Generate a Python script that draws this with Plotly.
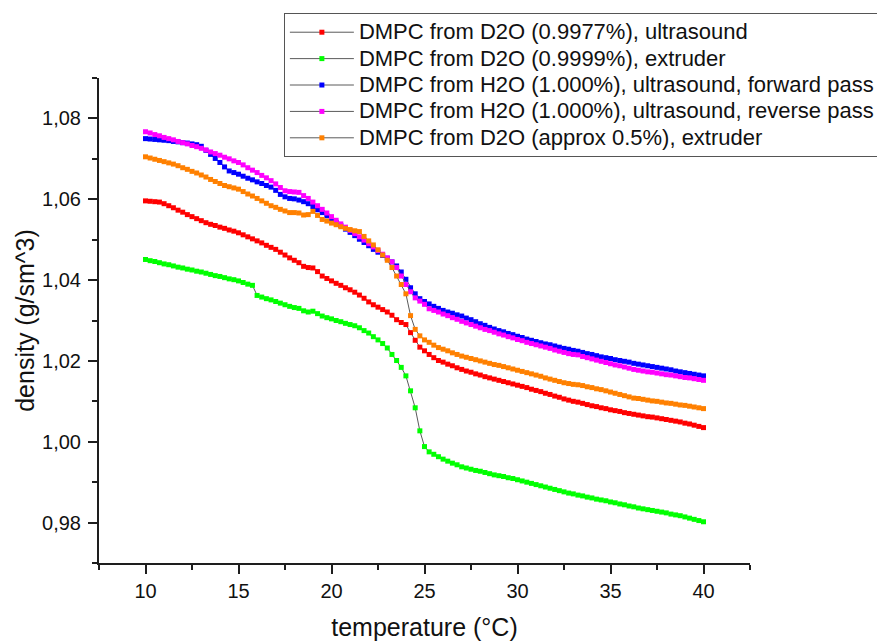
import plotly.graph_objects as go

# temperature grid (°C) shared by all series
temperature = [
    10.0, 10.25, 10.5, 10.75, 11.0, 11.25, 11.5, 11.75,
    12.0, 12.25, 12.5, 12.75, 13.0, 13.25, 13.5, 13.75,
    14.0, 14.25, 14.5, 14.75, 15.0, 15.25, 15.5, 15.75,
    16.0, 16.25, 16.5, 16.75, 17.0, 17.25, 17.5, 17.75,
    18.0, 18.25, 18.5, 18.75, 19.0, 19.25, 19.5, 19.75,
    20.0, 20.25, 20.5, 20.75, 21.0, 21.25, 21.5, 21.75,
    22.0, 22.25, 22.5, 22.75, 23.0, 23.25, 23.5, 23.75,
    24.0, 24.25, 24.5, 24.75, 25.0, 25.25, 25.5, 25.75,
    26.0, 26.25, 26.5, 26.75, 27.0, 27.25, 27.5, 27.75,
    28.0, 28.25, 28.5, 28.75, 29.0, 29.25, 29.5, 29.75,
    30.0, 30.25, 30.5, 30.75, 31.0, 31.25, 31.5, 31.75,
    32.0, 32.25, 32.5, 32.75, 33.0, 33.25, 33.5, 33.75,
    34.0, 34.25, 34.5, 34.75, 35.0, 35.25, 35.5, 35.75,
    36.0, 36.25, 36.5, 36.75, 37.0, 37.25, 37.5, 37.75,
    38.0, 38.25, 38.5, 38.75, 39.0, 39.25, 39.5, 39.75,
    40.0,
]

d2o_ultrasound = [
    1.0596, 1.0595, 1.0594, 1.0593, 1.0589, 1.0584, 1.0579, 1.0573,
    1.0568, 1.0562, 1.0557, 1.0552, 1.0547, 1.0542, 1.0538, 1.0535,
    1.0531, 1.0528, 1.0524, 1.0521, 1.0517, 1.0512, 1.0507, 1.0502,
    1.0497, 1.0492, 1.0486, 1.0481, 1.0476, 1.0469, 1.0462, 1.0455,
    1.0449, 1.0443, 1.0434, 1.0431, 1.0430, 1.0421, 1.0410, 1.0404,
    1.0398, 1.0392, 1.0387, 1.0381, 1.0376, 1.0370, 1.0363, 1.0355,
    1.0346, 1.0339, 1.0333, 1.0327, 1.0321, 1.0313, 1.0302, 1.0295,
    1.0290, 1.0270, 1.0251, 1.0234, 1.0225, 1.0216, 1.0208, 1.0201,
    1.0197, 1.0192, 1.0188, 1.0183, 1.0179, 1.0175, 1.0172, 1.0168,
    1.0165, 1.0161, 1.0158, 1.0155, 1.0152, 1.0149, 1.0146, 1.0143,
    1.0140, 1.0137, 1.0134, 1.0130, 1.0127, 1.0124, 1.0120, 1.0117,
    1.0113, 1.0110, 1.0106, 1.0103, 1.0100, 1.0098, 1.0095, 1.0092,
    1.0089, 1.0087, 1.0084, 1.0082, 1.0079, 1.0077, 1.0075, 1.0072,
    1.0070, 1.0068, 1.0066, 1.0064, 1.0062, 1.0061, 1.0059, 1.0057,
    1.0055, 1.0053, 1.0051, 1.0049, 1.0046, 1.0044, 1.0041, 1.0038,
    1.0035,
]

d2o_extruder = [
    1.0451, 1.0448, 1.0446, 1.0443, 1.0440, 1.0438, 1.0435, 1.0432,
    1.0430, 1.0427, 1.0425, 1.0422, 1.0420, 1.0417, 1.0414, 1.0411,
    1.0409, 1.0406, 1.0403, 1.0401, 1.0398, 1.0394, 1.0390, 1.0387,
    1.0362, 1.0358, 1.0354, 1.0351, 1.0347, 1.0343, 1.0339, 1.0335,
    1.0332, 1.0330, 1.0324, 1.0321, 1.0323, 1.0317, 1.0311, 1.0307,
    1.0304, 1.0300, 1.0297, 1.0293, 1.0290, 1.0287, 1.0282, 1.0275,
    1.0269, 1.0260, 1.0252, 1.0243, 1.0232, 1.0216, 1.0201, 1.0184,
    1.0163, 1.0126, 1.0084, 1.0027, 0.9988, 0.9975, 0.9969, 0.9963,
    0.9957, 0.9952, 0.9947, 0.9943, 0.9938, 0.9935, 0.9932, 0.9929,
    0.9927, 0.9924, 0.9921, 0.9918, 0.9916, 0.9914, 0.9911, 0.9909,
    0.9906, 0.9903, 0.9900, 0.9897, 0.9894, 0.9891, 0.9888, 0.9885,
    0.9882, 0.9879, 0.9876, 0.9873, 0.9871, 0.9868, 0.9866, 0.9863,
    0.9861, 0.9858, 0.9856, 0.9854, 0.9851, 0.9849, 0.9846, 0.9844,
    0.9841, 0.9839, 0.9836, 0.9834, 0.9832, 0.9830, 0.9828, 0.9826,
    0.9824, 0.9821, 0.9819, 0.9817, 0.9814, 0.9811, 0.9808, 0.9805,
    0.9802,
]

h2o_forward = [
    1.0750, 1.0749, 1.0748, 1.0747, 1.0746, 1.0745, 1.0743, 1.0742,
    1.0740, 1.0739, 1.0737, 1.0735, 1.0731, 1.0721, 1.0711, 1.0701,
    1.0691, 1.0680, 1.0670, 1.0666, 1.0662, 1.0657, 1.0652, 1.0648,
    1.0643, 1.0639, 1.0634, 1.0630, 1.0622, 1.0612, 1.0606, 1.0602,
    1.0601, 1.0598, 1.0594, 1.0589, 1.0582, 1.0574, 1.0567, 1.0559,
    1.0551, 1.0543, 1.0535, 1.0526, 1.0518, 1.0510, 1.0501, 1.0493,
    1.0485, 1.0476, 1.0469, 1.0461, 1.0454, 1.0445, 1.0435, 1.0420,
    1.0402, 1.0381, 1.0366, 1.0354, 1.0347, 1.0341, 1.0335, 1.0330,
    1.0325, 1.0321, 1.0318, 1.0314, 1.0311, 1.0306, 1.0302, 1.0297,
    1.0292, 1.0288, 1.0283, 1.0279, 1.0275, 1.0272, 1.0268, 1.0265,
    1.0261, 1.0258, 1.0254, 1.0251, 1.0248, 1.0245, 1.0242, 1.0240,
    1.0237, 1.0234, 1.0231, 1.0229, 1.0226, 1.0224, 1.0221, 1.0218,
    1.0216, 1.0213, 1.0210, 1.0208, 1.0206, 1.0203, 1.0201, 1.0199,
    1.0197, 1.0194, 1.0192, 1.0190, 1.0188, 1.0186, 1.0184, 1.0182,
    1.0180, 1.0178, 1.0175, 1.0173, 1.0171, 1.0169, 1.0167, 1.0165,
    1.0163,
]

h2o_reverse = [
    1.0767, 1.0764, 1.0760, 1.0757, 1.0753, 1.0750, 1.0747, 1.0743,
    1.0740, 1.0737, 1.0733, 1.0730, 1.0726, 1.0722, 1.0717, 1.0713,
    1.0709, 1.0704, 1.0700, 1.0695, 1.0691, 1.0685, 1.0678, 1.0672,
    1.0666, 1.0659, 1.0653, 1.0646, 1.0638, 1.0629, 1.0621, 1.0619,
    1.0618, 1.0617, 1.0609, 1.0602, 1.0593, 1.0584, 1.0575, 1.0566,
    1.0557, 1.0548, 1.0539, 1.0531, 1.0523, 1.0515, 1.0507, 1.0499,
    1.0490, 1.0482, 1.0473, 1.0464, 1.0455, 1.0445, 1.0431, 1.0410,
    1.0389, 1.0371, 1.0356, 1.0348, 1.0340, 1.0329, 1.0325, 1.0321,
    1.0316, 1.0312, 1.0307, 1.0303, 1.0298, 1.0294, 1.0290, 1.0286,
    1.0282, 1.0278, 1.0275, 1.0271, 1.0267, 1.0264, 1.0260, 1.0257,
    1.0253, 1.0250, 1.0246, 1.0243, 1.0240, 1.0237, 1.0234, 1.0231,
    1.0227, 1.0224, 1.0221, 1.0218, 1.0216, 1.0215, 1.0211, 1.0208,
    1.0205, 1.0202, 1.0199, 1.0196, 1.0193, 1.0190, 1.0188, 1.0185,
    1.0182, 1.0179, 1.0177, 1.0175, 1.0173, 1.0172, 1.0170, 1.0168,
    1.0166, 1.0165, 1.0163, 1.0161, 1.0159, 1.0158, 1.0156, 1.0154,
    1.0152,
]

d2o_half_percent = [
    1.0705, 1.0702, 1.0699, 1.0696, 1.0693, 1.0690, 1.0687, 1.0683,
    1.0678, 1.0674, 1.0669, 1.0665, 1.0660, 1.0655, 1.0649, 1.0644,
    1.0639, 1.0634, 1.0631, 1.0628, 1.0625, 1.0619, 1.0613, 1.0608,
    1.0602, 1.0596, 1.0590, 1.0584, 1.0580, 1.0575, 1.0571, 1.0567,
    1.0567, 1.0566, 1.0561, 1.0562, 1.0570, 1.0560, 1.0550, 1.0546,
    1.0541, 1.0537, 1.0532, 1.0528, 1.0525, 1.0522, 1.0520, 1.0508,
    1.0497, 1.0487, 1.0475, 1.0462, 1.0449, 1.0431, 1.0410, 1.0389,
    1.0366, 1.0312, 1.0278, 1.0262, 1.0252, 1.0246, 1.0239, 1.0233,
    1.0229, 1.0225, 1.0220, 1.0216, 1.0212, 1.0209, 1.0206, 1.0203,
    1.0200, 1.0197, 1.0194, 1.0191, 1.0189, 1.0186, 1.0183, 1.0180,
    1.0177, 1.0174, 1.0171, 1.0168, 1.0165, 1.0162, 1.0158, 1.0155,
    1.0152, 1.0149, 1.0146, 1.0144, 1.0142, 1.0141, 1.0139, 1.0136,
    1.0134, 1.0131, 1.0129, 1.0126, 1.0123, 1.0120, 1.0117, 1.0114,
    1.0111, 1.0108, 1.0107, 1.0105, 1.0103, 1.0101, 1.0100, 1.0098,
    1.0096, 1.0095, 1.0093, 1.0091, 1.0090, 1.0088, 1.0086, 1.0084,
    1.0082,
]

series_names = [
    'DMPC from D2O (0.9977%), ultrasound',
    'DMPC from D2O (0.9999%), extruder',
    'DMPC from H2O (1.000%), ultrasound, forward pass',
    'DMPC from H2O (1.000%), ultrasound, reverse pass',
    'DMPC from D2O (approx 0.5%), extruder',
]
series_values = [d2o_ultrasound, d2o_extruder, h2o_forward, h2o_reverse, d2o_half_percent]
series_colors = ['#ff0000', '#00ff00', '#0000ff', '#ff00ff', '#ff8000']

FONT = 'Liberation Sans, Arial, sans-serif'
AXIS_COLOR = '#1e1e1e'

fig = go.Figure()

for name, values, color in zip(series_names, series_values, series_colors):
    fig.add_trace(
        go.Scatter(
            x=temperature,
            y=values,
            mode='lines+markers',
            name='<span style="font-size:22px">' + name + '</span>',
            line=dict(color='#5a5a5a', width=1),
            marker=dict(symbol='square', size=5, color=color, line=dict(width=0)),
        )
    )

axis_common = dict(
    showline=True,
    linecolor=AXIS_COLOR,
    linewidth=2,
    ticks='outside',
    ticklen=9,
    tickwidth=2,
    tickcolor=AXIS_COLOR,
    showgrid=False,
    zeroline=False,
    tickfont=dict(family=FONT, size=20, color='#111111'),
)

fig.update_layout(
    width=877,
    height=641,
    paper_bgcolor='white',
    plot_bgcolor='white',
    separators=', ',
    font=dict(family=FONT, color='#111111'),
    margin=dict(l=99, r=127, t=78, b=78, autoexpand=False),
    showlegend=True,
    legend=dict(
        x=0.284,
        y=1.134,
        xanchor='left',
        yanchor='top',
        bgcolor='white',
        bordercolor='#555555',
        borderwidth=1,
        font=dict(family=FONT, size=18, color='#111111'),
        itemwidth=64,
        traceorder='normal',
    ),
    xaxis=dict(
        range=[7.5, 42.5],
        tickmode='linear',
        tick0=10,
        dtick=5,
        tickformat='d',
        minor=dict(ticks='outside', ticklen=5, tickwidth=2, tickcolor=AXIS_COLOR,
                   tickmode='linear', tick0=7.5, dtick=2.5),
        title=dict(text='temperature (°C)', font=dict(family=FONT, size=25, color='#111111'),
                   standoff=18),
        **axis_common,
    ),
    yaxis=dict(
        range=[0.97, 1.09],
        tickmode='linear',
        tick0=0.98,
        dtick=0.02,
        tickformat='.2f',
        ticklabelstandoff=3,
        minor=dict(ticks='outside', ticklen=5, tickwidth=2, tickcolor=AXIS_COLOR,
                   tickmode='linear', tick0=0.97, dtick=0.01),
        title=dict(text='density (g/sm^3)', font=dict(family=FONT, size=25, color='#111111'),
                   standoff=0),
        **axis_common,
    ),
)

# drop the browser's default body margin so the figure sits at the page corner
fig.write_html(
    'out.html',
    config={'displayModeBar': False},
    post_script="document.body.style.margin='0';",
)
